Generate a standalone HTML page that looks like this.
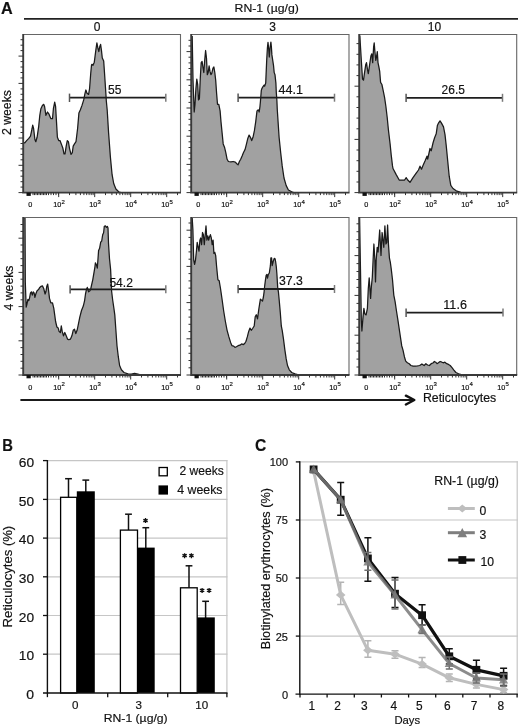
<!DOCTYPE html><html><head><meta charset="utf-8"><style>
html,body{margin:0;padding:0;background:#fff;width:520px;height:728px;overflow:hidden}
svg{display:block;filter:blur(0.3px)} text{font-family:"Liberation Sans", sans-serif;fill:#111;stroke:#111;stroke-width:0.18px}
</style></head><body>
<svg width="520" height="728" viewBox="0 0 520 728">
<text x="1.1" y="13.85" font-size="17.4" font-weight="bold" textLength="11.7" lengthAdjust="spacingAndGlyphs">A</text>
<line x1="24" y1="18.9" x2="518" y2="18.9" stroke="#222" stroke-width="1.8"/>
<text x="234.6" y="11.6" font-size="11.6" textLength="64.2" lengthAdjust="spacingAndGlyphs">RN-1 (µg/g)</text>
<text x="97.2" y="31.3" font-size="12" text-anchor="middle">0</text>
<text x="272.6" y="31.3" font-size="12" text-anchor="middle">3</text>
<text x="434.4" y="31.3" font-size="12" text-anchor="middle">10</text>
<text transform="translate(11.4,112.6) rotate(-90)" font-size="12.2" text-anchor="middle" textLength="45" lengthAdjust="spacingAndGlyphs">2 weeks</text>
<text transform="translate(12.6,288) rotate(-90)" font-size="12.2" text-anchor="middle" textLength="45" lengthAdjust="spacingAndGlyphs">4 weeks</text>
<polygon points="23.5,192.6 23.5,142.6 24.8,142.8 26.6,140.6 28.8,138.4 30.5,136.2 32.1,128.5 32.7,125.2 33.6,128.5 34.9,139.5 35.8,141.7 37.1,137.3 38.7,126.3 39.8,115.3 40.9,108.7 42.4,105.4 43.7,104.3 44.6,106.5 45.9,115.3 47.5,112.0 49.0,114.2 50.8,118.6 52.5,118.6 53.4,108.7 54.7,102.1 55.6,106.5 56.5,121.9 57.4,137.3 58.7,140.6 60.0,140.6 61.3,143.9 62.9,148.3 64.0,153.8 65.0,153.8 66.2,146.1 67.3,140.6 68.4,141.7 69.5,148.3 71.0,154.4 72.3,152.7 73.2,146.1 74.5,143.9 76.0,141.7 77.6,128.5 78.9,113.1 80.4,109.8 82.0,105.4 83.7,99.9 85.0,93.3 85.9,90.0 87.0,93.3 88.6,94.4 89.6,88.3 90.7,73.7 91.5,65.3 91.9,64.3 93.0,65.3 94.3,62.2 95.9,49.7 96.9,42.9 97.8,47.6 98.8,51.7 99.8,46.5 100.6,44.4 101.6,51.7 102.3,58.0 103.7,61.1 104.7,75.8 105.8,92.5 106.3,100.8 107.2,110.0 108.6,132.9 110.4,157.1 112.1,174.7 113.7,183.5 115.9,189.0 119.2,192.2 123.0,193.0 123.0,192.6" fill="#a1a1a1" stroke="none"/>
<polyline points="23.5,142.6 24.8,142.8 26.6,140.6 28.8,138.4 30.5,136.2 32.1,128.5 32.7,125.2 33.6,128.5 34.9,139.5 35.8,141.7 37.1,137.3 38.7,126.3 39.8,115.3 40.9,108.7 42.4,105.4 43.7,104.3 44.6,106.5 45.9,115.3 47.5,112.0 49.0,114.2 50.8,118.6 52.5,118.6 53.4,108.7 54.7,102.1 55.6,106.5 56.5,121.9 57.4,137.3 58.7,140.6 60.0,140.6 61.3,143.9 62.9,148.3 64.0,153.8 65.0,153.8 66.2,146.1 67.3,140.6 68.4,141.7 69.5,148.3 71.0,154.4 72.3,152.7 73.2,146.1 74.5,143.9 76.0,141.7 77.6,128.5 78.9,113.1 80.4,109.8 82.0,105.4 83.7,99.9 85.0,93.3 85.9,90.0 87.0,93.3 88.6,94.4 89.6,88.3 90.7,73.7 91.5,65.3 91.9,64.3 93.0,65.3 94.3,62.2 95.9,49.7 96.9,42.9 97.8,47.6 98.8,51.7 99.8,46.5 100.6,44.4 101.6,51.7 102.3,58.0 103.7,61.1 104.7,75.8 105.8,92.5 106.3,100.8 107.2,110.0 108.6,132.9 110.4,157.1 112.1,174.7 113.7,183.5 115.9,189.0 119.2,192.2 123.0,193.0" fill="none" stroke="#1a1a1a" stroke-width="1.25" stroke-linejoin="round"/>
<path d="M23 34.5H180.5V192.6" fill="none" stroke="#666" stroke-width="1.1"/>
<path d="M23.2 34V192.6H181.0" fill="none" stroke="#3a3a3a" stroke-width="1.9"/>
<line x1="18.5" y1="192.6" x2="23" y2="192.6" stroke="#333" stroke-width="1"/>
<line x1="20.5" y1="187.1" x2="23" y2="187.1" stroke="#333" stroke-width="1"/>
<line x1="20.5" y1="181.7" x2="23" y2="181.7" stroke="#333" stroke-width="1"/>
<line x1="20.5" y1="176.2" x2="23" y2="176.2" stroke="#333" stroke-width="1"/>
<line x1="20.5" y1="170.8" x2="23" y2="170.8" stroke="#333" stroke-width="1"/>
<line x1="18.5" y1="165.3" x2="23" y2="165.3" stroke="#333" stroke-width="1"/>
<line x1="20.5" y1="159.8" x2="23" y2="159.8" stroke="#333" stroke-width="1"/>
<line x1="20.5" y1="154.4" x2="23" y2="154.4" stroke="#333" stroke-width="1"/>
<line x1="20.5" y1="148.9" x2="23" y2="148.9" stroke="#333" stroke-width="1"/>
<line x1="20.5" y1="143.5" x2="23" y2="143.5" stroke="#333" stroke-width="1"/>
<line x1="18.5" y1="138.0" x2="23" y2="138.0" stroke="#333" stroke-width="1"/>
<line x1="20.5" y1="132.5" x2="23" y2="132.5" stroke="#333" stroke-width="1"/>
<line x1="20.5" y1="127.1" x2="23" y2="127.1" stroke="#333" stroke-width="1"/>
<line x1="20.5" y1="121.6" x2="23" y2="121.6" stroke="#333" stroke-width="1"/>
<line x1="20.5" y1="116.2" x2="23" y2="116.2" stroke="#333" stroke-width="1"/>
<line x1="18.5" y1="110.7" x2="23" y2="110.7" stroke="#333" stroke-width="1"/>
<line x1="20.5" y1="105.2" x2="23" y2="105.2" stroke="#333" stroke-width="1"/>
<line x1="20.5" y1="99.8" x2="23" y2="99.8" stroke="#333" stroke-width="1"/>
<line x1="20.5" y1="94.3" x2="23" y2="94.3" stroke="#333" stroke-width="1"/>
<line x1="20.5" y1="88.9" x2="23" y2="88.9" stroke="#333" stroke-width="1"/>
<line x1="18.5" y1="83.4" x2="23" y2="83.4" stroke="#333" stroke-width="1"/>
<line x1="20.5" y1="77.9" x2="23" y2="77.9" stroke="#333" stroke-width="1"/>
<line x1="20.5" y1="72.5" x2="23" y2="72.5" stroke="#333" stroke-width="1"/>
<line x1="20.5" y1="67.0" x2="23" y2="67.0" stroke="#333" stroke-width="1"/>
<line x1="20.5" y1="61.6" x2="23" y2="61.6" stroke="#333" stroke-width="1"/>
<line x1="18.5" y1="56.1" x2="23" y2="56.1" stroke="#333" stroke-width="1"/>
<line x1="20.5" y1="50.6" x2="23" y2="50.6" stroke="#333" stroke-width="1"/>
<line x1="20.5" y1="45.2" x2="23" y2="45.2" stroke="#333" stroke-width="1"/>
<line x1="20.5" y1="39.7" x2="23" y2="39.7" stroke="#333" stroke-width="1"/>
<line x1="58.7" y1="192.6" x2="58.7" y2="197.1" stroke="#333" stroke-width="1"/>
<line x1="69.5" y1="192.6" x2="69.5" y2="195.1" stroke="#333" stroke-width="1"/>
<line x1="75.9" y1="192.6" x2="75.9" y2="195.1" stroke="#333" stroke-width="1"/>
<line x1="80.4" y1="192.6" x2="80.4" y2="195.1" stroke="#333" stroke-width="1"/>
<line x1="83.9" y1="192.6" x2="83.9" y2="195.1" stroke="#333" stroke-width="1"/>
<line x1="86.7" y1="192.6" x2="86.7" y2="195.1" stroke="#333" stroke-width="1"/>
<line x1="89.1" y1="192.6" x2="89.1" y2="195.1" stroke="#333" stroke-width="1"/>
<line x1="91.2" y1="192.6" x2="91.2" y2="195.1" stroke="#333" stroke-width="1"/>
<line x1="93.1" y1="192.6" x2="93.1" y2="195.1" stroke="#333" stroke-width="1"/>
<line x1="94.7" y1="192.6" x2="94.7" y2="197.1" stroke="#333" stroke-width="1"/>
<line x1="105.5" y1="192.6" x2="105.5" y2="195.1" stroke="#333" stroke-width="1"/>
<line x1="111.9" y1="192.6" x2="111.9" y2="195.1" stroke="#333" stroke-width="1"/>
<line x1="116.4" y1="192.6" x2="116.4" y2="195.1" stroke="#333" stroke-width="1"/>
<line x1="119.9" y1="192.6" x2="119.9" y2="195.1" stroke="#333" stroke-width="1"/>
<line x1="122.7" y1="192.6" x2="122.7" y2="195.1" stroke="#333" stroke-width="1"/>
<line x1="125.1" y1="192.6" x2="125.1" y2="195.1" stroke="#333" stroke-width="1"/>
<line x1="127.2" y1="192.6" x2="127.2" y2="195.1" stroke="#333" stroke-width="1"/>
<line x1="129.1" y1="192.6" x2="129.1" y2="195.1" stroke="#333" stroke-width="1"/>
<line x1="130.7" y1="192.6" x2="130.7" y2="197.1" stroke="#333" stroke-width="1"/>
<line x1="141.5" y1="192.6" x2="141.5" y2="195.1" stroke="#333" stroke-width="1"/>
<line x1="147.9" y1="192.6" x2="147.9" y2="195.1" stroke="#333" stroke-width="1"/>
<line x1="152.4" y1="192.6" x2="152.4" y2="195.1" stroke="#333" stroke-width="1"/>
<line x1="155.9" y1="192.6" x2="155.9" y2="195.1" stroke="#333" stroke-width="1"/>
<line x1="158.7" y1="192.6" x2="158.7" y2="195.1" stroke="#333" stroke-width="1"/>
<line x1="161.1" y1="192.6" x2="161.1" y2="195.1" stroke="#333" stroke-width="1"/>
<line x1="163.2" y1="192.6" x2="163.2" y2="195.1" stroke="#333" stroke-width="1"/>
<line x1="165.1" y1="192.6" x2="165.1" y2="195.1" stroke="#333" stroke-width="1"/>
<line x1="166.7" y1="192.6" x2="166.7" y2="197.1" stroke="#333" stroke-width="1"/>
<line x1="177.5" y1="192.6" x2="177.5" y2="195.1" stroke="#333" stroke-width="1"/>
<line x1="33.0" y1="192.6" x2="33.0" y2="195.1" stroke="#333" stroke-width="1"/>
<line x1="34.5" y1="192.6" x2="34.5" y2="195.1" stroke="#333" stroke-width="1"/>
<line x1="36.0" y1="192.6" x2="36.0" y2="195.1" stroke="#333" stroke-width="1"/>
<line x1="37.5" y1="192.6" x2="37.5" y2="195.1" stroke="#333" stroke-width="1"/>
<line x1="39.0" y1="192.6" x2="39.0" y2="195.1" stroke="#333" stroke-width="1"/>
<line x1="40.5" y1="192.6" x2="40.5" y2="195.1" stroke="#333" stroke-width="1"/>
<line x1="42.0" y1="192.6" x2="42.0" y2="195.1" stroke="#333" stroke-width="1"/>
<line x1="43.5" y1="192.6" x2="43.5" y2="195.1" stroke="#333" stroke-width="1"/>
<line x1="45.0" y1="192.6" x2="45.0" y2="195.1" stroke="#333" stroke-width="1"/>
<line x1="46.5" y1="192.6" x2="46.5" y2="195.1" stroke="#333" stroke-width="1"/>
<line x1="48.5" y1="192.6" x2="48.5" y2="195.1" stroke="#333" stroke-width="1"/>
<line x1="51.0" y1="192.6" x2="51.0" y2="195.1" stroke="#333" stroke-width="1"/>
<line x1="53.5" y1="192.6" x2="53.5" y2="195.1" stroke="#333" stroke-width="1"/>
<line x1="56.0" y1="192.6" x2="56.0" y2="195.1" stroke="#333" stroke-width="1"/>
<line x1="58.5" y1="192.6" x2="58.5" y2="195.1" stroke="#333" stroke-width="1"/>
<rect x="26.5" y="192.6" width="4.3" height="3.3" fill="#111"/>
<text x="30.2" y="207.29999999999998" font-size="7.3" text-anchor="middle">0</text>
<text x="53.3" y="207.29999999999998" font-size="7.3">10<tspan dy="-3.3" font-size="6">2</tspan></text>
<text x="89.3" y="207.29999999999998" font-size="7.3">10<tspan dy="-3.3" font-size="6">3</tspan></text>
<text x="125.3" y="207.29999999999998" font-size="7.3">10<tspan dy="-3.3" font-size="6">4</tspan></text>
<text x="161.3" y="207.29999999999998" font-size="7.3">10<tspan dy="-3.3" font-size="6">5</tspan></text>
<line x1="69.5" y1="97.7" x2="165.8" y2="97.7" stroke="#1e1e1e" stroke-width="1.8"/>
<line x1="69.5" y1="93.6" x2="69.5" y2="102.0" stroke="#555" stroke-width="1.5"/>
<line x1="165.8" y1="93.7" x2="165.8" y2="101.7" stroke="#7a7a7a" stroke-width="1.5"/>
<text x="108.1" y="94.1" font-size="12.5" textLength="13.4" lengthAdjust="spacingAndGlyphs">55</text>
<polygon points="191.5,192.6 192.2,36.0 193.0,80.0 194.2,112.0 195.0,104.3 195.9,88.9 196.8,79.1 197.7,84.5 198.5,99.9 199.4,98.8 200.3,78.0 201.2,62.6 202.1,61.5 202.9,67.0 203.8,72.5 204.7,60.4 205.6,50.5 206.5,58.2 207.3,74.7 208.2,72.5 209.1,65.9 210.0,71.4 210.9,74.7 211.7,73.6 213.0,68.1 213.9,67.0 214.8,72.5 215.7,80.2 216.6,93.3 217.5,104.3 218.8,104.3 220.1,110.9 221.0,121.9 222.1,132.9 223.2,143.9 224.5,147.2 225.8,152.7 227.1,159.3 228.4,161.5 230.9,161.9 233.1,161.5 235.3,162.1 236.8,163.7 238.1,164.8 239.4,161.5 240.7,159.3 242.1,156.0 243.4,152.7 245.1,149.4 246.5,143.9 247.8,138.4 249.1,135.1 250.4,137.3 251.7,140.6 253.0,137.3 254.4,130.7 255.7,121.9 257.0,110.9 258.3,109.8 259.2,112.0 259.9,107.0 260.4,101.8 261.3,90.4 262.0,88.3 263.0,86.7 264.1,85.1 264.6,86.2 265.7,83.1 266.7,60.1 267.4,48.0 268.0,42.4 268.6,48.0 269.3,57.0 270.0,48.0 270.9,42.1 271.4,47.0 271.9,54.9 273.5,65.3 274.2,72.6 275.0,74.7 275.9,83.1 276.3,92.5 276.9,100.8 277.3,110.0 277.8,117.5 279.1,137.3 280.7,152.7 282.2,165.9 284.0,178.0 286.2,185.6 288.4,190.0 291.7,191.8 295.0,193.0 295.0,192.6" fill="#a1a1a1" stroke="none"/>
<polyline points="192.2,36.0 193.0,80.0 194.2,112.0 195.0,104.3 195.9,88.9 196.8,79.1 197.7,84.5 198.5,99.9 199.4,98.8 200.3,78.0 201.2,62.6 202.1,61.5 202.9,67.0 203.8,72.5 204.7,60.4 205.6,50.5 206.5,58.2 207.3,74.7 208.2,72.5 209.1,65.9 210.0,71.4 210.9,74.7 211.7,73.6 213.0,68.1 213.9,67.0 214.8,72.5 215.7,80.2 216.6,93.3 217.5,104.3 218.8,104.3 220.1,110.9 221.0,121.9 222.1,132.9 223.2,143.9 224.5,147.2 225.8,152.7 227.1,159.3 228.4,161.5 230.9,161.9 233.1,161.5 235.3,162.1 236.8,163.7 238.1,164.8 239.4,161.5 240.7,159.3 242.1,156.0 243.4,152.7 245.1,149.4 246.5,143.9 247.8,138.4 249.1,135.1 250.4,137.3 251.7,140.6 253.0,137.3 254.4,130.7 255.7,121.9 257.0,110.9 258.3,109.8 259.2,112.0 259.9,107.0 260.4,101.8 261.3,90.4 262.0,88.3 263.0,86.7 264.1,85.1 264.6,86.2 265.7,83.1 266.7,60.1 267.4,48.0 268.0,42.4 268.6,48.0 269.3,57.0 270.0,48.0 270.9,42.1 271.4,47.0 271.9,54.9 273.5,65.3 274.2,72.6 275.0,74.7 275.9,83.1 276.3,92.5 276.9,100.8 277.3,110.0 277.8,117.5 279.1,137.3 280.7,152.7 282.2,165.9 284.0,178.0 286.2,185.6 288.4,190.0 291.7,191.8 295.0,193.0" fill="none" stroke="#1a1a1a" stroke-width="1.25" stroke-linejoin="round"/>
<path d="M191 34.5H349.0V192.6" fill="none" stroke="#666" stroke-width="1.1"/>
<path d="M191.2 34V192.6H349.5" fill="none" stroke="#3a3a3a" stroke-width="1.9"/>
<line x1="186.5" y1="192.6" x2="191" y2="192.6" stroke="#333" stroke-width="1"/>
<line x1="188.5" y1="187.0" x2="191" y2="187.0" stroke="#333" stroke-width="1"/>
<line x1="188.5" y1="181.3" x2="191" y2="181.3" stroke="#333" stroke-width="1"/>
<line x1="188.5" y1="175.7" x2="191" y2="175.7" stroke="#333" stroke-width="1"/>
<line x1="188.5" y1="170.0" x2="191" y2="170.0" stroke="#333" stroke-width="1"/>
<line x1="186.5" y1="164.4" x2="191" y2="164.4" stroke="#333" stroke-width="1"/>
<line x1="188.5" y1="158.8" x2="191" y2="158.8" stroke="#333" stroke-width="1"/>
<line x1="188.5" y1="153.1" x2="191" y2="153.1" stroke="#333" stroke-width="1"/>
<line x1="188.5" y1="147.5" x2="191" y2="147.5" stroke="#333" stroke-width="1"/>
<line x1="188.5" y1="141.8" x2="191" y2="141.8" stroke="#333" stroke-width="1"/>
<line x1="186.5" y1="136.2" x2="191" y2="136.2" stroke="#333" stroke-width="1"/>
<line x1="188.5" y1="130.6" x2="191" y2="130.6" stroke="#333" stroke-width="1"/>
<line x1="188.5" y1="124.9" x2="191" y2="124.9" stroke="#333" stroke-width="1"/>
<line x1="188.5" y1="119.3" x2="191" y2="119.3" stroke="#333" stroke-width="1"/>
<line x1="188.5" y1="113.6" x2="191" y2="113.6" stroke="#333" stroke-width="1"/>
<line x1="186.5" y1="108.0" x2="191" y2="108.0" stroke="#333" stroke-width="1"/>
<line x1="188.5" y1="102.4" x2="191" y2="102.4" stroke="#333" stroke-width="1"/>
<line x1="188.5" y1="96.7" x2="191" y2="96.7" stroke="#333" stroke-width="1"/>
<line x1="188.5" y1="91.1" x2="191" y2="91.1" stroke="#333" stroke-width="1"/>
<line x1="188.5" y1="85.4" x2="191" y2="85.4" stroke="#333" stroke-width="1"/>
<line x1="186.5" y1="79.8" x2="191" y2="79.8" stroke="#333" stroke-width="1"/>
<line x1="188.5" y1="74.2" x2="191" y2="74.2" stroke="#333" stroke-width="1"/>
<line x1="188.5" y1="68.5" x2="191" y2="68.5" stroke="#333" stroke-width="1"/>
<line x1="188.5" y1="62.9" x2="191" y2="62.9" stroke="#333" stroke-width="1"/>
<line x1="188.5" y1="57.2" x2="191" y2="57.2" stroke="#333" stroke-width="1"/>
<line x1="186.5" y1="51.6" x2="191" y2="51.6" stroke="#333" stroke-width="1"/>
<line x1="188.5" y1="46.0" x2="191" y2="46.0" stroke="#333" stroke-width="1"/>
<line x1="188.5" y1="40.3" x2="191" y2="40.3" stroke="#333" stroke-width="1"/>
<line x1="226.7" y1="192.6" x2="226.7" y2="197.1" stroke="#333" stroke-width="1"/>
<line x1="237.5" y1="192.6" x2="237.5" y2="195.1" stroke="#333" stroke-width="1"/>
<line x1="243.9" y1="192.6" x2="243.9" y2="195.1" stroke="#333" stroke-width="1"/>
<line x1="248.4" y1="192.6" x2="248.4" y2="195.1" stroke="#333" stroke-width="1"/>
<line x1="251.9" y1="192.6" x2="251.9" y2="195.1" stroke="#333" stroke-width="1"/>
<line x1="254.7" y1="192.6" x2="254.7" y2="195.1" stroke="#333" stroke-width="1"/>
<line x1="257.1" y1="192.6" x2="257.1" y2="195.1" stroke="#333" stroke-width="1"/>
<line x1="259.2" y1="192.6" x2="259.2" y2="195.1" stroke="#333" stroke-width="1"/>
<line x1="261.1" y1="192.6" x2="261.1" y2="195.1" stroke="#333" stroke-width="1"/>
<line x1="262.7" y1="192.6" x2="262.7" y2="197.1" stroke="#333" stroke-width="1"/>
<line x1="273.5" y1="192.6" x2="273.5" y2="195.1" stroke="#333" stroke-width="1"/>
<line x1="279.9" y1="192.6" x2="279.9" y2="195.1" stroke="#333" stroke-width="1"/>
<line x1="284.4" y1="192.6" x2="284.4" y2="195.1" stroke="#333" stroke-width="1"/>
<line x1="287.9" y1="192.6" x2="287.9" y2="195.1" stroke="#333" stroke-width="1"/>
<line x1="290.7" y1="192.6" x2="290.7" y2="195.1" stroke="#333" stroke-width="1"/>
<line x1="293.1" y1="192.6" x2="293.1" y2="195.1" stroke="#333" stroke-width="1"/>
<line x1="295.2" y1="192.6" x2="295.2" y2="195.1" stroke="#333" stroke-width="1"/>
<line x1="297.1" y1="192.6" x2="297.1" y2="195.1" stroke="#333" stroke-width="1"/>
<line x1="298.7" y1="192.6" x2="298.7" y2="197.1" stroke="#333" stroke-width="1"/>
<line x1="309.5" y1="192.6" x2="309.5" y2="195.1" stroke="#333" stroke-width="1"/>
<line x1="315.9" y1="192.6" x2="315.9" y2="195.1" stroke="#333" stroke-width="1"/>
<line x1="320.4" y1="192.6" x2="320.4" y2="195.1" stroke="#333" stroke-width="1"/>
<line x1="323.9" y1="192.6" x2="323.9" y2="195.1" stroke="#333" stroke-width="1"/>
<line x1="326.7" y1="192.6" x2="326.7" y2="195.1" stroke="#333" stroke-width="1"/>
<line x1="329.1" y1="192.6" x2="329.1" y2="195.1" stroke="#333" stroke-width="1"/>
<line x1="331.2" y1="192.6" x2="331.2" y2="195.1" stroke="#333" stroke-width="1"/>
<line x1="333.1" y1="192.6" x2="333.1" y2="195.1" stroke="#333" stroke-width="1"/>
<line x1="334.7" y1="192.6" x2="334.7" y2="197.1" stroke="#333" stroke-width="1"/>
<line x1="345.5" y1="192.6" x2="345.5" y2="195.1" stroke="#333" stroke-width="1"/>
<line x1="201.0" y1="192.6" x2="201.0" y2="195.1" stroke="#333" stroke-width="1"/>
<line x1="202.5" y1="192.6" x2="202.5" y2="195.1" stroke="#333" stroke-width="1"/>
<line x1="204.0" y1="192.6" x2="204.0" y2="195.1" stroke="#333" stroke-width="1"/>
<line x1="205.5" y1="192.6" x2="205.5" y2="195.1" stroke="#333" stroke-width="1"/>
<line x1="207.0" y1="192.6" x2="207.0" y2="195.1" stroke="#333" stroke-width="1"/>
<line x1="208.5" y1="192.6" x2="208.5" y2="195.1" stroke="#333" stroke-width="1"/>
<line x1="210.0" y1="192.6" x2="210.0" y2="195.1" stroke="#333" stroke-width="1"/>
<line x1="211.5" y1="192.6" x2="211.5" y2="195.1" stroke="#333" stroke-width="1"/>
<line x1="213.0" y1="192.6" x2="213.0" y2="195.1" stroke="#333" stroke-width="1"/>
<line x1="214.5" y1="192.6" x2="214.5" y2="195.1" stroke="#333" stroke-width="1"/>
<line x1="216.5" y1="192.6" x2="216.5" y2="195.1" stroke="#333" stroke-width="1"/>
<line x1="219.0" y1="192.6" x2="219.0" y2="195.1" stroke="#333" stroke-width="1"/>
<line x1="221.5" y1="192.6" x2="221.5" y2="195.1" stroke="#333" stroke-width="1"/>
<line x1="224.0" y1="192.6" x2="224.0" y2="195.1" stroke="#333" stroke-width="1"/>
<line x1="226.5" y1="192.6" x2="226.5" y2="195.1" stroke="#333" stroke-width="1"/>
<rect x="194.5" y="192.6" width="4.3" height="3.3" fill="#111"/>
<text x="198.2" y="207.29999999999998" font-size="7.3" text-anchor="middle">0</text>
<text x="221.3" y="207.29999999999998" font-size="7.3">10<tspan dy="-3.3" font-size="6">2</tspan></text>
<text x="257.3" y="207.29999999999998" font-size="7.3">10<tspan dy="-3.3" font-size="6">3</tspan></text>
<text x="293.3" y="207.29999999999998" font-size="7.3">10<tspan dy="-3.3" font-size="6">4</tspan></text>
<text x="329.3" y="207.29999999999998" font-size="7.3">10<tspan dy="-3.3" font-size="6">5</tspan></text>
<line x1="238.1" y1="97.7" x2="334.5" y2="97.7" stroke="#1e1e1e" stroke-width="1.8"/>
<line x1="238.1" y1="93.6" x2="238.1" y2="102.0" stroke="#555" stroke-width="1.5"/>
<line x1="334.5" y1="93.7" x2="334.5" y2="101.7" stroke="#7a7a7a" stroke-width="1.5"/>
<text x="278.4" y="93.9" font-size="12.5" textLength="24.5" lengthAdjust="spacingAndGlyphs">44.1</text>
<polygon points="359.5,192.6 359.8,35.5 361.3,60.0 362.5,79.0 363.5,80.2 364.4,73.6 365.7,64.8 366.5,62.6 367.4,69.2 368.3,73.6 369.6,64.8 370.9,56.0 371.8,53.8 372.7,62.6 373.6,47.2 374.2,42.8 374.9,51.6 375.8,60.4 376.7,56.0 377.3,51.6 378.0,62.6 378.9,67.0 379.7,71.4 380.6,82.4 381.9,84.5 383.3,91.1 384.6,97.7 385.9,106.5 387.2,117.5 388.5,130.7 390.1,143.9 391.2,154.9 392.5,165.9 393.0,168.5 396.2,174.6 399.2,180.0 402.3,180.0 404.6,180.0 406.2,177.7 407.7,180.0 410.0,182.3 413.0,177.7 416.2,173.1 418.5,170.0 420.0,166.2 421.5,169.2 423.0,165.4 425.0,161.0 427.0,156.2 427.7,159.2 430.0,148.5 431.2,150.8 433.0,143.0 434.6,137.7 436.2,133.8 437.4,125.4 438.5,123.1 440.0,120.8 441.5,123.1 443.5,126.9 445.0,134.6 446.2,145.4 447.7,160.8 449.2,176.2 450.8,185.4 453.0,188.5 456.2,190.8 460.8,192.3 460.8,192.6" fill="#a1a1a1" stroke="none"/>
<polyline points="359.8,35.5 361.3,60.0 362.5,79.0 363.5,80.2 364.4,73.6 365.7,64.8 366.5,62.6 367.4,69.2 368.3,73.6 369.6,64.8 370.9,56.0 371.8,53.8 372.7,62.6 373.6,47.2 374.2,42.8 374.9,51.6 375.8,60.4 376.7,56.0 377.3,51.6 378.0,62.6 378.9,67.0 379.7,71.4 380.6,82.4 381.9,84.5 383.3,91.1 384.6,97.7 385.9,106.5 387.2,117.5 388.5,130.7 390.1,143.9 391.2,154.9 392.5,165.9 393.0,168.5 396.2,174.6 399.2,180.0 402.3,180.0 404.6,180.0 406.2,177.7 407.7,180.0 410.0,182.3 413.0,177.7 416.2,173.1 418.5,170.0 420.0,166.2 421.5,169.2 423.0,165.4 425.0,161.0 427.0,156.2 427.7,159.2 430.0,148.5 431.2,150.8 433.0,143.0 434.6,137.7 436.2,133.8 437.4,125.4 438.5,123.1 440.0,120.8 441.5,123.1 443.5,126.9 445.0,134.6 446.2,145.4 447.7,160.8 449.2,176.2 450.8,185.4 453.0,188.5 456.2,190.8 460.8,192.3" fill="none" stroke="#1a1a1a" stroke-width="1.25" stroke-linejoin="round"/>
<path d="M359 34.5H516.7V192.6" fill="none" stroke="#666" stroke-width="1.1"/>
<path d="M359.2 34V192.6H517.2" fill="none" stroke="#3a3a3a" stroke-width="1.9"/>
<line x1="354.5" y1="192.6" x2="359" y2="192.6" stroke="#333" stroke-width="1"/>
<line x1="356.5" y1="182.0" x2="359" y2="182.0" stroke="#333" stroke-width="1"/>
<line x1="356.5" y1="171.3" x2="359" y2="171.3" stroke="#333" stroke-width="1"/>
<line x1="356.5" y1="160.7" x2="359" y2="160.7" stroke="#333" stroke-width="1"/>
<line x1="356.5" y1="150.0" x2="359" y2="150.0" stroke="#333" stroke-width="1"/>
<line x1="354.5" y1="139.4" x2="359" y2="139.4" stroke="#333" stroke-width="1"/>
<line x1="356.5" y1="128.8" x2="359" y2="128.8" stroke="#333" stroke-width="1"/>
<line x1="356.5" y1="118.1" x2="359" y2="118.1" stroke="#333" stroke-width="1"/>
<line x1="356.5" y1="107.5" x2="359" y2="107.5" stroke="#333" stroke-width="1"/>
<line x1="356.5" y1="96.8" x2="359" y2="96.8" stroke="#333" stroke-width="1"/>
<line x1="354.5" y1="86.2" x2="359" y2="86.2" stroke="#333" stroke-width="1"/>
<line x1="356.5" y1="75.6" x2="359" y2="75.6" stroke="#333" stroke-width="1"/>
<line x1="356.5" y1="64.9" x2="359" y2="64.9" stroke="#333" stroke-width="1"/>
<line x1="356.5" y1="54.3" x2="359" y2="54.3" stroke="#333" stroke-width="1"/>
<line x1="356.5" y1="43.6" x2="359" y2="43.6" stroke="#333" stroke-width="1"/>
<line x1="394.7" y1="192.6" x2="394.7" y2="197.1" stroke="#333" stroke-width="1"/>
<line x1="405.5" y1="192.6" x2="405.5" y2="195.1" stroke="#333" stroke-width="1"/>
<line x1="411.9" y1="192.6" x2="411.9" y2="195.1" stroke="#333" stroke-width="1"/>
<line x1="416.4" y1="192.6" x2="416.4" y2="195.1" stroke="#333" stroke-width="1"/>
<line x1="419.9" y1="192.6" x2="419.9" y2="195.1" stroke="#333" stroke-width="1"/>
<line x1="422.7" y1="192.6" x2="422.7" y2="195.1" stroke="#333" stroke-width="1"/>
<line x1="425.1" y1="192.6" x2="425.1" y2="195.1" stroke="#333" stroke-width="1"/>
<line x1="427.2" y1="192.6" x2="427.2" y2="195.1" stroke="#333" stroke-width="1"/>
<line x1="429.1" y1="192.6" x2="429.1" y2="195.1" stroke="#333" stroke-width="1"/>
<line x1="430.7" y1="192.6" x2="430.7" y2="197.1" stroke="#333" stroke-width="1"/>
<line x1="441.5" y1="192.6" x2="441.5" y2="195.1" stroke="#333" stroke-width="1"/>
<line x1="447.9" y1="192.6" x2="447.9" y2="195.1" stroke="#333" stroke-width="1"/>
<line x1="452.4" y1="192.6" x2="452.4" y2="195.1" stroke="#333" stroke-width="1"/>
<line x1="455.9" y1="192.6" x2="455.9" y2="195.1" stroke="#333" stroke-width="1"/>
<line x1="458.7" y1="192.6" x2="458.7" y2="195.1" stroke="#333" stroke-width="1"/>
<line x1="461.1" y1="192.6" x2="461.1" y2="195.1" stroke="#333" stroke-width="1"/>
<line x1="463.2" y1="192.6" x2="463.2" y2="195.1" stroke="#333" stroke-width="1"/>
<line x1="465.1" y1="192.6" x2="465.1" y2="195.1" stroke="#333" stroke-width="1"/>
<line x1="466.7" y1="192.6" x2="466.7" y2="197.1" stroke="#333" stroke-width="1"/>
<line x1="477.5" y1="192.6" x2="477.5" y2="195.1" stroke="#333" stroke-width="1"/>
<line x1="483.9" y1="192.6" x2="483.9" y2="195.1" stroke="#333" stroke-width="1"/>
<line x1="488.4" y1="192.6" x2="488.4" y2="195.1" stroke="#333" stroke-width="1"/>
<line x1="491.9" y1="192.6" x2="491.9" y2="195.1" stroke="#333" stroke-width="1"/>
<line x1="494.7" y1="192.6" x2="494.7" y2="195.1" stroke="#333" stroke-width="1"/>
<line x1="497.1" y1="192.6" x2="497.1" y2="195.1" stroke="#333" stroke-width="1"/>
<line x1="499.2" y1="192.6" x2="499.2" y2="195.1" stroke="#333" stroke-width="1"/>
<line x1="501.1" y1="192.6" x2="501.1" y2="195.1" stroke="#333" stroke-width="1"/>
<line x1="502.7" y1="192.6" x2="502.7" y2="197.1" stroke="#333" stroke-width="1"/>
<line x1="513.5" y1="192.6" x2="513.5" y2="195.1" stroke="#333" stroke-width="1"/>
<line x1="369.0" y1="192.6" x2="369.0" y2="195.1" stroke="#333" stroke-width="1"/>
<line x1="370.5" y1="192.6" x2="370.5" y2="195.1" stroke="#333" stroke-width="1"/>
<line x1="372.0" y1="192.6" x2="372.0" y2="195.1" stroke="#333" stroke-width="1"/>
<line x1="373.5" y1="192.6" x2="373.5" y2="195.1" stroke="#333" stroke-width="1"/>
<line x1="375.0" y1="192.6" x2="375.0" y2="195.1" stroke="#333" stroke-width="1"/>
<line x1="376.5" y1="192.6" x2="376.5" y2="195.1" stroke="#333" stroke-width="1"/>
<line x1="378.0" y1="192.6" x2="378.0" y2="195.1" stroke="#333" stroke-width="1"/>
<line x1="379.5" y1="192.6" x2="379.5" y2="195.1" stroke="#333" stroke-width="1"/>
<line x1="381.0" y1="192.6" x2="381.0" y2="195.1" stroke="#333" stroke-width="1"/>
<line x1="382.5" y1="192.6" x2="382.5" y2="195.1" stroke="#333" stroke-width="1"/>
<line x1="384.5" y1="192.6" x2="384.5" y2="195.1" stroke="#333" stroke-width="1"/>
<line x1="387.0" y1="192.6" x2="387.0" y2="195.1" stroke="#333" stroke-width="1"/>
<line x1="389.5" y1="192.6" x2="389.5" y2="195.1" stroke="#333" stroke-width="1"/>
<line x1="392.0" y1="192.6" x2="392.0" y2="195.1" stroke="#333" stroke-width="1"/>
<line x1="394.5" y1="192.6" x2="394.5" y2="195.1" stroke="#333" stroke-width="1"/>
<rect x="362.5" y="192.6" width="4.3" height="3.3" fill="#111"/>
<text x="366.2" y="207.29999999999998" font-size="7.3" text-anchor="middle">0</text>
<text x="389.3" y="207.29999999999998" font-size="7.3">10<tspan dy="-3.3" font-size="6">2</tspan></text>
<text x="425.3" y="207.29999999999998" font-size="7.3">10<tspan dy="-3.3" font-size="6">3</tspan></text>
<text x="461.3" y="207.29999999999998" font-size="7.3">10<tspan dy="-3.3" font-size="6">4</tspan></text>
<text x="497.3" y="207.29999999999998" font-size="7.3">10<tspan dy="-3.3" font-size="6">5</tspan></text>
<line x1="406.1" y1="97.8" x2="502.5" y2="97.8" stroke="#1e1e1e" stroke-width="1.8"/>
<line x1="406.1" y1="93.7" x2="406.1" y2="102.1" stroke="#555" stroke-width="1.5"/>
<line x1="502.5" y1="93.8" x2="502.5" y2="101.8" stroke="#7a7a7a" stroke-width="1.5"/>
<text x="441.6" y="93.9" font-size="12.5" textLength="23.3" lengthAdjust="spacingAndGlyphs">26.5</text>
<polygon points="23.5,375.0 23.8,217.5 25.0,217.5 25.3,282.0 26.2,307.2 27.0,303.9 27.9,299.5 28.8,300.6 29.7,297.3 30.5,292.9 31.4,291.8 32.3,295.1 33.2,291.8 34.1,292.9 34.9,297.3 35.8,294.0 37.1,290.7 38.5,289.6 39.8,287.4 41.1,286.3 42.4,285.9 43.7,288.5 45.1,294.0 45.9,291.8 46.8,286.3 47.7,284.1 48.6,290.7 49.5,298.4 50.8,302.8 52.5,302.8 53.8,308.3 54.7,314.9 55.6,321.5 56.9,327.0 58.2,328.1 59.1,331.4 60.4,332.5 61.3,325.9 62.2,331.4 63.5,335.8 64.8,332.5 66.2,335.8 67.5,339.1 68.8,339.7 70.5,339.1 71.9,335.8 73.2,330.3 74.5,329.2 75.8,333.6 77.1,330.3 78.5,323.7 79.8,317.1 81.5,310.5 83.3,306.1 84.6,300.6 85.5,294.0 86.4,289.6 87.3,287.4 88.6,291.8 89.9,290.7 90.7,289.0 92.8,279.6 94.9,267.1 95.4,262.9 96.5,265.0 97.3,268.1 98.0,258.8 98.6,250.4 99.6,248.3 100.7,242.1 101.7,241.0 102.7,234.7 103.6,232.7 104.3,226.4 105.4,225.9 106.4,227.4 107.4,226.4 108.0,228.0 108.5,243.1 109.5,258.8 110.6,269.2 111.1,279.6 111.6,291.0 112.6,299.5 113.9,308.3 114.8,314.9 115.9,330.3 117.0,345.7 118.3,356.7 119.6,365.5 121.4,369.8 124.0,372.5 128.0,373.8 131.3,374.2 134.6,373.4 137.9,374.2 141.2,375.0 141.2,375.0" fill="#a1a1a1" stroke="none"/>
<polyline points="23.8,217.5 25.0,217.5 25.3,282.0 26.2,307.2 27.0,303.9 27.9,299.5 28.8,300.6 29.7,297.3 30.5,292.9 31.4,291.8 32.3,295.1 33.2,291.8 34.1,292.9 34.9,297.3 35.8,294.0 37.1,290.7 38.5,289.6 39.8,287.4 41.1,286.3 42.4,285.9 43.7,288.5 45.1,294.0 45.9,291.8 46.8,286.3 47.7,284.1 48.6,290.7 49.5,298.4 50.8,302.8 52.5,302.8 53.8,308.3 54.7,314.9 55.6,321.5 56.9,327.0 58.2,328.1 59.1,331.4 60.4,332.5 61.3,325.9 62.2,331.4 63.5,335.8 64.8,332.5 66.2,335.8 67.5,339.1 68.8,339.7 70.5,339.1 71.9,335.8 73.2,330.3 74.5,329.2 75.8,333.6 77.1,330.3 78.5,323.7 79.8,317.1 81.5,310.5 83.3,306.1 84.6,300.6 85.5,294.0 86.4,289.6 87.3,287.4 88.6,291.8 89.9,290.7 90.7,289.0 92.8,279.6 94.9,267.1 95.4,262.9 96.5,265.0 97.3,268.1 98.0,258.8 98.6,250.4 99.6,248.3 100.7,242.1 101.7,241.0 102.7,234.7 103.6,232.7 104.3,226.4 105.4,225.9 106.4,227.4 107.4,226.4 108.0,228.0 108.5,243.1 109.5,258.8 110.6,269.2 111.1,279.6 111.6,291.0 112.6,299.5 113.9,308.3 114.8,314.9 115.9,330.3 117.0,345.7 118.3,356.7 119.6,365.5 121.4,369.8 124.0,372.5 128.0,373.8 131.3,374.2 134.6,373.4 137.9,374.2 141.2,375.0" fill="none" stroke="#1a1a1a" stroke-width="1.25" stroke-linejoin="round"/>
<path d="M23 217.5H180.5V375.0" fill="none" stroke="#666" stroke-width="1.1"/>
<path d="M23.2 217V375.0H181.0" fill="none" stroke="#3a3a3a" stroke-width="1.9"/>
<line x1="18.5" y1="375.0" x2="23" y2="375.0" stroke="#333" stroke-width="1"/>
<line x1="20.5" y1="368.2" x2="23" y2="368.2" stroke="#333" stroke-width="1"/>
<line x1="20.5" y1="361.3" x2="23" y2="361.3" stroke="#333" stroke-width="1"/>
<line x1="20.5" y1="354.5" x2="23" y2="354.5" stroke="#333" stroke-width="1"/>
<line x1="20.5" y1="347.6" x2="23" y2="347.6" stroke="#333" stroke-width="1"/>
<line x1="18.5" y1="340.8" x2="23" y2="340.8" stroke="#333" stroke-width="1"/>
<line x1="20.5" y1="334.0" x2="23" y2="334.0" stroke="#333" stroke-width="1"/>
<line x1="20.5" y1="327.1" x2="23" y2="327.1" stroke="#333" stroke-width="1"/>
<line x1="20.5" y1="320.3" x2="23" y2="320.3" stroke="#333" stroke-width="1"/>
<line x1="20.5" y1="313.4" x2="23" y2="313.4" stroke="#333" stroke-width="1"/>
<line x1="18.5" y1="306.6" x2="23" y2="306.6" stroke="#333" stroke-width="1"/>
<line x1="20.5" y1="299.8" x2="23" y2="299.8" stroke="#333" stroke-width="1"/>
<line x1="20.5" y1="292.9" x2="23" y2="292.9" stroke="#333" stroke-width="1"/>
<line x1="20.5" y1="286.1" x2="23" y2="286.1" stroke="#333" stroke-width="1"/>
<line x1="20.5" y1="279.2" x2="23" y2="279.2" stroke="#333" stroke-width="1"/>
<line x1="18.5" y1="272.4" x2="23" y2="272.4" stroke="#333" stroke-width="1"/>
<line x1="20.5" y1="265.6" x2="23" y2="265.6" stroke="#333" stroke-width="1"/>
<line x1="20.5" y1="258.7" x2="23" y2="258.7" stroke="#333" stroke-width="1"/>
<line x1="20.5" y1="251.9" x2="23" y2="251.9" stroke="#333" stroke-width="1"/>
<line x1="20.5" y1="245.0" x2="23" y2="245.0" stroke="#333" stroke-width="1"/>
<line x1="18.5" y1="238.2" x2="23" y2="238.2" stroke="#333" stroke-width="1"/>
<line x1="20.5" y1="231.4" x2="23" y2="231.4" stroke="#333" stroke-width="1"/>
<line x1="20.5" y1="224.5" x2="23" y2="224.5" stroke="#333" stroke-width="1"/>
<line x1="58.7" y1="375.0" x2="58.7" y2="379.5" stroke="#333" stroke-width="1"/>
<line x1="69.5" y1="375.0" x2="69.5" y2="377.5" stroke="#333" stroke-width="1"/>
<line x1="75.9" y1="375.0" x2="75.9" y2="377.5" stroke="#333" stroke-width="1"/>
<line x1="80.4" y1="375.0" x2="80.4" y2="377.5" stroke="#333" stroke-width="1"/>
<line x1="83.9" y1="375.0" x2="83.9" y2="377.5" stroke="#333" stroke-width="1"/>
<line x1="86.7" y1="375.0" x2="86.7" y2="377.5" stroke="#333" stroke-width="1"/>
<line x1="89.1" y1="375.0" x2="89.1" y2="377.5" stroke="#333" stroke-width="1"/>
<line x1="91.2" y1="375.0" x2="91.2" y2="377.5" stroke="#333" stroke-width="1"/>
<line x1="93.1" y1="375.0" x2="93.1" y2="377.5" stroke="#333" stroke-width="1"/>
<line x1="94.7" y1="375.0" x2="94.7" y2="379.5" stroke="#333" stroke-width="1"/>
<line x1="105.5" y1="375.0" x2="105.5" y2="377.5" stroke="#333" stroke-width="1"/>
<line x1="111.9" y1="375.0" x2="111.9" y2="377.5" stroke="#333" stroke-width="1"/>
<line x1="116.4" y1="375.0" x2="116.4" y2="377.5" stroke="#333" stroke-width="1"/>
<line x1="119.9" y1="375.0" x2="119.9" y2="377.5" stroke="#333" stroke-width="1"/>
<line x1="122.7" y1="375.0" x2="122.7" y2="377.5" stroke="#333" stroke-width="1"/>
<line x1="125.1" y1="375.0" x2="125.1" y2="377.5" stroke="#333" stroke-width="1"/>
<line x1="127.2" y1="375.0" x2="127.2" y2="377.5" stroke="#333" stroke-width="1"/>
<line x1="129.1" y1="375.0" x2="129.1" y2="377.5" stroke="#333" stroke-width="1"/>
<line x1="130.7" y1="375.0" x2="130.7" y2="379.5" stroke="#333" stroke-width="1"/>
<line x1="141.5" y1="375.0" x2="141.5" y2="377.5" stroke="#333" stroke-width="1"/>
<line x1="147.9" y1="375.0" x2="147.9" y2="377.5" stroke="#333" stroke-width="1"/>
<line x1="152.4" y1="375.0" x2="152.4" y2="377.5" stroke="#333" stroke-width="1"/>
<line x1="155.9" y1="375.0" x2="155.9" y2="377.5" stroke="#333" stroke-width="1"/>
<line x1="158.7" y1="375.0" x2="158.7" y2="377.5" stroke="#333" stroke-width="1"/>
<line x1="161.1" y1="375.0" x2="161.1" y2="377.5" stroke="#333" stroke-width="1"/>
<line x1="163.2" y1="375.0" x2="163.2" y2="377.5" stroke="#333" stroke-width="1"/>
<line x1="165.1" y1="375.0" x2="165.1" y2="377.5" stroke="#333" stroke-width="1"/>
<line x1="166.7" y1="375.0" x2="166.7" y2="379.5" stroke="#333" stroke-width="1"/>
<line x1="177.5" y1="375.0" x2="177.5" y2="377.5" stroke="#333" stroke-width="1"/>
<line x1="33.0" y1="375.0" x2="33.0" y2="377.5" stroke="#333" stroke-width="1"/>
<line x1="34.5" y1="375.0" x2="34.5" y2="377.5" stroke="#333" stroke-width="1"/>
<line x1="36.0" y1="375.0" x2="36.0" y2="377.5" stroke="#333" stroke-width="1"/>
<line x1="37.5" y1="375.0" x2="37.5" y2="377.5" stroke="#333" stroke-width="1"/>
<line x1="39.0" y1="375.0" x2="39.0" y2="377.5" stroke="#333" stroke-width="1"/>
<line x1="40.5" y1="375.0" x2="40.5" y2="377.5" stroke="#333" stroke-width="1"/>
<line x1="42.0" y1="375.0" x2="42.0" y2="377.5" stroke="#333" stroke-width="1"/>
<line x1="43.5" y1="375.0" x2="43.5" y2="377.5" stroke="#333" stroke-width="1"/>
<line x1="45.0" y1="375.0" x2="45.0" y2="377.5" stroke="#333" stroke-width="1"/>
<line x1="46.5" y1="375.0" x2="46.5" y2="377.5" stroke="#333" stroke-width="1"/>
<line x1="48.5" y1="375.0" x2="48.5" y2="377.5" stroke="#333" stroke-width="1"/>
<line x1="51.0" y1="375.0" x2="51.0" y2="377.5" stroke="#333" stroke-width="1"/>
<line x1="53.5" y1="375.0" x2="53.5" y2="377.5" stroke="#333" stroke-width="1"/>
<line x1="56.0" y1="375.0" x2="56.0" y2="377.5" stroke="#333" stroke-width="1"/>
<line x1="58.5" y1="375.0" x2="58.5" y2="377.5" stroke="#333" stroke-width="1"/>
<rect x="26.5" y="375.0" width="4.3" height="3.3" fill="#111"/>
<text x="30.2" y="389.7" font-size="7.3" text-anchor="middle">0</text>
<text x="53.3" y="389.7" font-size="7.3">10<tspan dy="-3.3" font-size="6">2</tspan></text>
<text x="89.3" y="389.7" font-size="7.3">10<tspan dy="-3.3" font-size="6">3</tspan></text>
<text x="125.3" y="389.7" font-size="7.3">10<tspan dy="-3.3" font-size="6">4</tspan></text>
<text x="161.3" y="389.7" font-size="7.3">10<tspan dy="-3.3" font-size="6">5</tspan></text>
<line x1="70.1" y1="289.3" x2="165.8" y2="289.3" stroke="#1e1e1e" stroke-width="1.8"/>
<line x1="70.1" y1="285.2" x2="70.1" y2="293.6" stroke="#555" stroke-width="1.5"/>
<line x1="165.8" y1="285.3" x2="165.8" y2="293.3" stroke="#7a7a7a" stroke-width="1.5"/>
<text x="109.4" y="286.5" font-size="12.5" textLength="23.5" lengthAdjust="spacingAndGlyphs">54.2</text>
<polygon points="191.5,375.0 192.2,218.0 192.9,230.0 193.7,260.0 194.6,264.4 195.5,260.0 196.4,251.2 197.2,242.4 198.1,246.8 199.0,251.2 199.9,240.2 200.7,238.0 201.6,244.6 202.5,232.5 203.4,234.7 204.3,244.6 205.1,235.8 206.0,225.9 206.9,240.2 207.8,235.8 208.7,240.2 209.5,236.9 210.4,234.7 211.3,238.0 212.2,244.6 213.1,240.2 213.9,253.4 214.8,252.3 215.7,255.6 216.6,266.5 217.9,279.7 219.2,280.8 220.5,288.5 222.1,299.5 223.6,310.5 225.4,321.5 227.1,330.3 228.9,336.9 230.6,342.4 232.0,345.7 233.7,346.1 235.0,347.4 236.4,346.8 238.1,345.7 239.9,345.2 241.6,343.9 243.4,344.6 244.7,343.5 246.0,341.3 247.3,336.9 248.7,331.4 250.0,328.1 251.3,330.3 252.6,328.5 254.2,326.0 255.2,316.8 256.3,314.7 257.5,318.9 258.9,308.5 260.4,299.1 261.5,300.1 262.5,301.1 263.4,297.0 264.1,291.8 264.6,286.5 265.4,280.3 266.2,275.1 266.9,274.5 267.5,278.2 268.3,274.5 269.3,273.0 270.4,265.7 270.9,257.8 271.6,257.8 272.2,265.7 273.2,261.5 274.2,258.4 275.1,258.9 275.6,261.5 276.3,266.7 276.9,274.0 277.7,287.6 278.4,291.8 279.2,300.1 280.3,312.6 281.3,326.0 282.2,330.3 283.5,339.1 284.9,350.1 286.2,358.9 287.5,365.5 289.3,369.8 291.7,372.5 295.0,373.8 299.4,375.0 299.4,375.0" fill="#a1a1a1" stroke="none"/>
<polyline points="192.2,218.0 192.9,230.0 193.7,260.0 194.6,264.4 195.5,260.0 196.4,251.2 197.2,242.4 198.1,246.8 199.0,251.2 199.9,240.2 200.7,238.0 201.6,244.6 202.5,232.5 203.4,234.7 204.3,244.6 205.1,235.8 206.0,225.9 206.9,240.2 207.8,235.8 208.7,240.2 209.5,236.9 210.4,234.7 211.3,238.0 212.2,244.6 213.1,240.2 213.9,253.4 214.8,252.3 215.7,255.6 216.6,266.5 217.9,279.7 219.2,280.8 220.5,288.5 222.1,299.5 223.6,310.5 225.4,321.5 227.1,330.3 228.9,336.9 230.6,342.4 232.0,345.7 233.7,346.1 235.0,347.4 236.4,346.8 238.1,345.7 239.9,345.2 241.6,343.9 243.4,344.6 244.7,343.5 246.0,341.3 247.3,336.9 248.7,331.4 250.0,328.1 251.3,330.3 252.6,328.5 254.2,326.0 255.2,316.8 256.3,314.7 257.5,318.9 258.9,308.5 260.4,299.1 261.5,300.1 262.5,301.1 263.4,297.0 264.1,291.8 264.6,286.5 265.4,280.3 266.2,275.1 266.9,274.5 267.5,278.2 268.3,274.5 269.3,273.0 270.4,265.7 270.9,257.8 271.6,257.8 272.2,265.7 273.2,261.5 274.2,258.4 275.1,258.9 275.6,261.5 276.3,266.7 276.9,274.0 277.7,287.6 278.4,291.8 279.2,300.1 280.3,312.6 281.3,326.0 282.2,330.3 283.5,339.1 284.9,350.1 286.2,358.9 287.5,365.5 289.3,369.8 291.7,372.5 295.0,373.8 299.4,375.0" fill="none" stroke="#1a1a1a" stroke-width="1.25" stroke-linejoin="round"/>
<path d="M191 217.5H349.0V375.0" fill="none" stroke="#666" stroke-width="1.1"/>
<path d="M191.2 217V375.0H349.5" fill="none" stroke="#3a3a3a" stroke-width="1.9"/>
<line x1="186.5" y1="375.0" x2="191" y2="375.0" stroke="#333" stroke-width="1"/>
<line x1="188.5" y1="367.8" x2="191" y2="367.8" stroke="#333" stroke-width="1"/>
<line x1="188.5" y1="360.5" x2="191" y2="360.5" stroke="#333" stroke-width="1"/>
<line x1="188.5" y1="353.3" x2="191" y2="353.3" stroke="#333" stroke-width="1"/>
<line x1="188.5" y1="346.0" x2="191" y2="346.0" stroke="#333" stroke-width="1"/>
<line x1="186.5" y1="338.8" x2="191" y2="338.8" stroke="#333" stroke-width="1"/>
<line x1="188.5" y1="331.6" x2="191" y2="331.6" stroke="#333" stroke-width="1"/>
<line x1="188.5" y1="324.3" x2="191" y2="324.3" stroke="#333" stroke-width="1"/>
<line x1="188.5" y1="317.1" x2="191" y2="317.1" stroke="#333" stroke-width="1"/>
<line x1="188.5" y1="309.8" x2="191" y2="309.8" stroke="#333" stroke-width="1"/>
<line x1="186.5" y1="302.6" x2="191" y2="302.6" stroke="#333" stroke-width="1"/>
<line x1="188.5" y1="295.4" x2="191" y2="295.4" stroke="#333" stroke-width="1"/>
<line x1="188.5" y1="288.1" x2="191" y2="288.1" stroke="#333" stroke-width="1"/>
<line x1="188.5" y1="280.9" x2="191" y2="280.9" stroke="#333" stroke-width="1"/>
<line x1="188.5" y1="273.6" x2="191" y2="273.6" stroke="#333" stroke-width="1"/>
<line x1="186.5" y1="266.4" x2="191" y2="266.4" stroke="#333" stroke-width="1"/>
<line x1="188.5" y1="259.2" x2="191" y2="259.2" stroke="#333" stroke-width="1"/>
<line x1="188.5" y1="251.9" x2="191" y2="251.9" stroke="#333" stroke-width="1"/>
<line x1="188.5" y1="244.7" x2="191" y2="244.7" stroke="#333" stroke-width="1"/>
<line x1="188.5" y1="237.4" x2="191" y2="237.4" stroke="#333" stroke-width="1"/>
<line x1="186.5" y1="230.2" x2="191" y2="230.2" stroke="#333" stroke-width="1"/>
<line x1="188.5" y1="223.0" x2="191" y2="223.0" stroke="#333" stroke-width="1"/>
<line x1="226.7" y1="375.0" x2="226.7" y2="379.5" stroke="#333" stroke-width="1"/>
<line x1="237.5" y1="375.0" x2="237.5" y2="377.5" stroke="#333" stroke-width="1"/>
<line x1="243.9" y1="375.0" x2="243.9" y2="377.5" stroke="#333" stroke-width="1"/>
<line x1="248.4" y1="375.0" x2="248.4" y2="377.5" stroke="#333" stroke-width="1"/>
<line x1="251.9" y1="375.0" x2="251.9" y2="377.5" stroke="#333" stroke-width="1"/>
<line x1="254.7" y1="375.0" x2="254.7" y2="377.5" stroke="#333" stroke-width="1"/>
<line x1="257.1" y1="375.0" x2="257.1" y2="377.5" stroke="#333" stroke-width="1"/>
<line x1="259.2" y1="375.0" x2="259.2" y2="377.5" stroke="#333" stroke-width="1"/>
<line x1="261.1" y1="375.0" x2="261.1" y2="377.5" stroke="#333" stroke-width="1"/>
<line x1="262.7" y1="375.0" x2="262.7" y2="379.5" stroke="#333" stroke-width="1"/>
<line x1="273.5" y1="375.0" x2="273.5" y2="377.5" stroke="#333" stroke-width="1"/>
<line x1="279.9" y1="375.0" x2="279.9" y2="377.5" stroke="#333" stroke-width="1"/>
<line x1="284.4" y1="375.0" x2="284.4" y2="377.5" stroke="#333" stroke-width="1"/>
<line x1="287.9" y1="375.0" x2="287.9" y2="377.5" stroke="#333" stroke-width="1"/>
<line x1="290.7" y1="375.0" x2="290.7" y2="377.5" stroke="#333" stroke-width="1"/>
<line x1="293.1" y1="375.0" x2="293.1" y2="377.5" stroke="#333" stroke-width="1"/>
<line x1="295.2" y1="375.0" x2="295.2" y2="377.5" stroke="#333" stroke-width="1"/>
<line x1="297.1" y1="375.0" x2="297.1" y2="377.5" stroke="#333" stroke-width="1"/>
<line x1="298.7" y1="375.0" x2="298.7" y2="379.5" stroke="#333" stroke-width="1"/>
<line x1="309.5" y1="375.0" x2="309.5" y2="377.5" stroke="#333" stroke-width="1"/>
<line x1="315.9" y1="375.0" x2="315.9" y2="377.5" stroke="#333" stroke-width="1"/>
<line x1="320.4" y1="375.0" x2="320.4" y2="377.5" stroke="#333" stroke-width="1"/>
<line x1="323.9" y1="375.0" x2="323.9" y2="377.5" stroke="#333" stroke-width="1"/>
<line x1="326.7" y1="375.0" x2="326.7" y2="377.5" stroke="#333" stroke-width="1"/>
<line x1="329.1" y1="375.0" x2="329.1" y2="377.5" stroke="#333" stroke-width="1"/>
<line x1="331.2" y1="375.0" x2="331.2" y2="377.5" stroke="#333" stroke-width="1"/>
<line x1="333.1" y1="375.0" x2="333.1" y2="377.5" stroke="#333" stroke-width="1"/>
<line x1="334.7" y1="375.0" x2="334.7" y2="379.5" stroke="#333" stroke-width="1"/>
<line x1="345.5" y1="375.0" x2="345.5" y2="377.5" stroke="#333" stroke-width="1"/>
<line x1="201.0" y1="375.0" x2="201.0" y2="377.5" stroke="#333" stroke-width="1"/>
<line x1="202.5" y1="375.0" x2="202.5" y2="377.5" stroke="#333" stroke-width="1"/>
<line x1="204.0" y1="375.0" x2="204.0" y2="377.5" stroke="#333" stroke-width="1"/>
<line x1="205.5" y1="375.0" x2="205.5" y2="377.5" stroke="#333" stroke-width="1"/>
<line x1="207.0" y1="375.0" x2="207.0" y2="377.5" stroke="#333" stroke-width="1"/>
<line x1="208.5" y1="375.0" x2="208.5" y2="377.5" stroke="#333" stroke-width="1"/>
<line x1="210.0" y1="375.0" x2="210.0" y2="377.5" stroke="#333" stroke-width="1"/>
<line x1="211.5" y1="375.0" x2="211.5" y2="377.5" stroke="#333" stroke-width="1"/>
<line x1="213.0" y1="375.0" x2="213.0" y2="377.5" stroke="#333" stroke-width="1"/>
<line x1="214.5" y1="375.0" x2="214.5" y2="377.5" stroke="#333" stroke-width="1"/>
<line x1="216.5" y1="375.0" x2="216.5" y2="377.5" stroke="#333" stroke-width="1"/>
<line x1="219.0" y1="375.0" x2="219.0" y2="377.5" stroke="#333" stroke-width="1"/>
<line x1="221.5" y1="375.0" x2="221.5" y2="377.5" stroke="#333" stroke-width="1"/>
<line x1="224.0" y1="375.0" x2="224.0" y2="377.5" stroke="#333" stroke-width="1"/>
<line x1="226.5" y1="375.0" x2="226.5" y2="377.5" stroke="#333" stroke-width="1"/>
<rect x="194.5" y="375.0" width="4.3" height="3.3" fill="#111"/>
<text x="198.2" y="389.7" font-size="7.3" text-anchor="middle">0</text>
<text x="221.3" y="389.7" font-size="7.3">10<tspan dy="-3.3" font-size="6">2</tspan></text>
<text x="257.3" y="389.7" font-size="7.3">10<tspan dy="-3.3" font-size="6">3</tspan></text>
<text x="293.3" y="389.7" font-size="7.3">10<tspan dy="-3.3" font-size="6">4</tspan></text>
<text x="329.3" y="389.7" font-size="7.3">10<tspan dy="-3.3" font-size="6">5</tspan></text>
<line x1="238.1" y1="289.0" x2="334.5" y2="289.0" stroke="#1e1e1e" stroke-width="1.8"/>
<line x1="238.1" y1="284.9" x2="238.1" y2="293.3" stroke="#555" stroke-width="1.5"/>
<line x1="334.5" y1="285.0" x2="334.5" y2="293.0" stroke="#7a7a7a" stroke-width="1.5"/>
<text x="279.0" y="284.5" font-size="12.5" textLength="23.9" lengthAdjust="spacingAndGlyphs">37.3</text>
<polygon points="359.5,375.0 359.5,217.5 360.5,270.0 361.3,320.0 361.9,331.0 363.0,317.1 363.9,308.3 364.8,313.8 366.1,314.9 367.4,308.3 368.3,288.5 369.2,277.8 370.6,298.4 371.4,286.3 372.3,277.5 373.1,260.0 373.9,244.0 374.9,260.0 375.5,281.9 376.2,260.0 377.2,247.3 378.1,252.0 379.7,230.0 381.0,255.5 382.1,232.5 383.8,247.3 384.9,225.9 385.9,244.0 386.8,242.4 387.6,225.0 388.5,244.6 389.4,257.8 390.3,262.2 391.2,268.7 392.5,279.7 393.8,295.1 395.1,301.7 396.4,310.5 397.8,319.3 399.1,328.1 400.4,336.9 401.7,345.7 403.0,350.1 404.4,356.7 405.7,361.1 407.4,362.8 409.2,363.7 410.9,365.5 413.1,366.1 415.3,366.1 417.5,365.9 419.7,365.5 421.9,363.9 424.1,365.5 425.9,363.7 427.6,365.0 429.4,365.5 431.2,363.7 432.9,363.0 434.4,361.5 435.7,362.2 437.0,363.7 438.4,362.8 440.1,361.5 441.9,362.2 443.2,362.8 444.9,362.2 446.7,363.7 448.5,364.4 450.2,365.5 452.0,367.6 453.7,369.8 455.9,372.5 458.6,373.8 463.0,375.0 463.0,375.0" fill="#a1a1a1" stroke="none"/>
<polyline points="359.5,217.5 360.5,270.0 361.3,320.0 361.9,331.0 363.0,317.1 363.9,308.3 364.8,313.8 366.1,314.9 367.4,308.3 368.3,288.5 369.2,277.8 370.6,298.4 371.4,286.3 372.3,277.5 373.1,260.0 373.9,244.0 374.9,260.0 375.5,281.9 376.2,260.0 377.2,247.3 378.1,252.0 379.7,230.0 381.0,255.5 382.1,232.5 383.8,247.3 384.9,225.9 385.9,244.0 386.8,242.4 387.6,225.0 388.5,244.6 389.4,257.8 390.3,262.2 391.2,268.7 392.5,279.7 393.8,295.1 395.1,301.7 396.4,310.5 397.8,319.3 399.1,328.1 400.4,336.9 401.7,345.7 403.0,350.1 404.4,356.7 405.7,361.1 407.4,362.8 409.2,363.7 410.9,365.5 413.1,366.1 415.3,366.1 417.5,365.9 419.7,365.5 421.9,363.9 424.1,365.5 425.9,363.7 427.6,365.0 429.4,365.5 431.2,363.7 432.9,363.0 434.4,361.5 435.7,362.2 437.0,363.7 438.4,362.8 440.1,361.5 441.9,362.2 443.2,362.8 444.9,362.2 446.7,363.7 448.5,364.4 450.2,365.5 452.0,367.6 453.7,369.8 455.9,372.5 458.6,373.8 463.0,375.0" fill="none" stroke="#1a1a1a" stroke-width="1.25" stroke-linejoin="round"/>
<path d="M359 217.5H516.7V375.0" fill="none" stroke="#666" stroke-width="1.1"/>
<path d="M359.2 217V375.0H517.2" fill="none" stroke="#3a3a3a" stroke-width="1.9"/>
<line x1="354.5" y1="375.0" x2="359" y2="375.0" stroke="#333" stroke-width="1"/>
<line x1="356.5" y1="367.0" x2="359" y2="367.0" stroke="#333" stroke-width="1"/>
<line x1="356.5" y1="359.1" x2="359" y2="359.1" stroke="#333" stroke-width="1"/>
<line x1="356.5" y1="351.1" x2="359" y2="351.1" stroke="#333" stroke-width="1"/>
<line x1="356.5" y1="343.2" x2="359" y2="343.2" stroke="#333" stroke-width="1"/>
<line x1="354.5" y1="335.2" x2="359" y2="335.2" stroke="#333" stroke-width="1"/>
<line x1="356.5" y1="327.2" x2="359" y2="327.2" stroke="#333" stroke-width="1"/>
<line x1="356.5" y1="319.3" x2="359" y2="319.3" stroke="#333" stroke-width="1"/>
<line x1="356.5" y1="311.3" x2="359" y2="311.3" stroke="#333" stroke-width="1"/>
<line x1="356.5" y1="303.4" x2="359" y2="303.4" stroke="#333" stroke-width="1"/>
<line x1="354.5" y1="295.4" x2="359" y2="295.4" stroke="#333" stroke-width="1"/>
<line x1="356.5" y1="287.4" x2="359" y2="287.4" stroke="#333" stroke-width="1"/>
<line x1="356.5" y1="279.5" x2="359" y2="279.5" stroke="#333" stroke-width="1"/>
<line x1="356.5" y1="271.5" x2="359" y2="271.5" stroke="#333" stroke-width="1"/>
<line x1="356.5" y1="263.6" x2="359" y2="263.6" stroke="#333" stroke-width="1"/>
<line x1="354.5" y1="255.6" x2="359" y2="255.6" stroke="#333" stroke-width="1"/>
<line x1="356.5" y1="247.6" x2="359" y2="247.6" stroke="#333" stroke-width="1"/>
<line x1="356.5" y1="239.7" x2="359" y2="239.7" stroke="#333" stroke-width="1"/>
<line x1="356.5" y1="231.7" x2="359" y2="231.7" stroke="#333" stroke-width="1"/>
<line x1="356.5" y1="223.8" x2="359" y2="223.8" stroke="#333" stroke-width="1"/>
<line x1="394.7" y1="375.0" x2="394.7" y2="379.5" stroke="#333" stroke-width="1"/>
<line x1="405.5" y1="375.0" x2="405.5" y2="377.5" stroke="#333" stroke-width="1"/>
<line x1="411.9" y1="375.0" x2="411.9" y2="377.5" stroke="#333" stroke-width="1"/>
<line x1="416.4" y1="375.0" x2="416.4" y2="377.5" stroke="#333" stroke-width="1"/>
<line x1="419.9" y1="375.0" x2="419.9" y2="377.5" stroke="#333" stroke-width="1"/>
<line x1="422.7" y1="375.0" x2="422.7" y2="377.5" stroke="#333" stroke-width="1"/>
<line x1="425.1" y1="375.0" x2="425.1" y2="377.5" stroke="#333" stroke-width="1"/>
<line x1="427.2" y1="375.0" x2="427.2" y2="377.5" stroke="#333" stroke-width="1"/>
<line x1="429.1" y1="375.0" x2="429.1" y2="377.5" stroke="#333" stroke-width="1"/>
<line x1="430.7" y1="375.0" x2="430.7" y2="379.5" stroke="#333" stroke-width="1"/>
<line x1="441.5" y1="375.0" x2="441.5" y2="377.5" stroke="#333" stroke-width="1"/>
<line x1="447.9" y1="375.0" x2="447.9" y2="377.5" stroke="#333" stroke-width="1"/>
<line x1="452.4" y1="375.0" x2="452.4" y2="377.5" stroke="#333" stroke-width="1"/>
<line x1="455.9" y1="375.0" x2="455.9" y2="377.5" stroke="#333" stroke-width="1"/>
<line x1="458.7" y1="375.0" x2="458.7" y2="377.5" stroke="#333" stroke-width="1"/>
<line x1="461.1" y1="375.0" x2="461.1" y2="377.5" stroke="#333" stroke-width="1"/>
<line x1="463.2" y1="375.0" x2="463.2" y2="377.5" stroke="#333" stroke-width="1"/>
<line x1="465.1" y1="375.0" x2="465.1" y2="377.5" stroke="#333" stroke-width="1"/>
<line x1="466.7" y1="375.0" x2="466.7" y2="379.5" stroke="#333" stroke-width="1"/>
<line x1="477.5" y1="375.0" x2="477.5" y2="377.5" stroke="#333" stroke-width="1"/>
<line x1="483.9" y1="375.0" x2="483.9" y2="377.5" stroke="#333" stroke-width="1"/>
<line x1="488.4" y1="375.0" x2="488.4" y2="377.5" stroke="#333" stroke-width="1"/>
<line x1="491.9" y1="375.0" x2="491.9" y2="377.5" stroke="#333" stroke-width="1"/>
<line x1="494.7" y1="375.0" x2="494.7" y2="377.5" stroke="#333" stroke-width="1"/>
<line x1="497.1" y1="375.0" x2="497.1" y2="377.5" stroke="#333" stroke-width="1"/>
<line x1="499.2" y1="375.0" x2="499.2" y2="377.5" stroke="#333" stroke-width="1"/>
<line x1="501.1" y1="375.0" x2="501.1" y2="377.5" stroke="#333" stroke-width="1"/>
<line x1="502.7" y1="375.0" x2="502.7" y2="379.5" stroke="#333" stroke-width="1"/>
<line x1="513.5" y1="375.0" x2="513.5" y2="377.5" stroke="#333" stroke-width="1"/>
<line x1="369.0" y1="375.0" x2="369.0" y2="377.5" stroke="#333" stroke-width="1"/>
<line x1="370.5" y1="375.0" x2="370.5" y2="377.5" stroke="#333" stroke-width="1"/>
<line x1="372.0" y1="375.0" x2="372.0" y2="377.5" stroke="#333" stroke-width="1"/>
<line x1="373.5" y1="375.0" x2="373.5" y2="377.5" stroke="#333" stroke-width="1"/>
<line x1="375.0" y1="375.0" x2="375.0" y2="377.5" stroke="#333" stroke-width="1"/>
<line x1="376.5" y1="375.0" x2="376.5" y2="377.5" stroke="#333" stroke-width="1"/>
<line x1="378.0" y1="375.0" x2="378.0" y2="377.5" stroke="#333" stroke-width="1"/>
<line x1="379.5" y1="375.0" x2="379.5" y2="377.5" stroke="#333" stroke-width="1"/>
<line x1="381.0" y1="375.0" x2="381.0" y2="377.5" stroke="#333" stroke-width="1"/>
<line x1="382.5" y1="375.0" x2="382.5" y2="377.5" stroke="#333" stroke-width="1"/>
<line x1="384.5" y1="375.0" x2="384.5" y2="377.5" stroke="#333" stroke-width="1"/>
<line x1="387.0" y1="375.0" x2="387.0" y2="377.5" stroke="#333" stroke-width="1"/>
<line x1="389.5" y1="375.0" x2="389.5" y2="377.5" stroke="#333" stroke-width="1"/>
<line x1="392.0" y1="375.0" x2="392.0" y2="377.5" stroke="#333" stroke-width="1"/>
<line x1="394.5" y1="375.0" x2="394.5" y2="377.5" stroke="#333" stroke-width="1"/>
<rect x="362.5" y="375.0" width="4.3" height="3.3" fill="#111"/>
<text x="366.2" y="389.7" font-size="7.3" text-anchor="middle">0</text>
<text x="389.3" y="389.7" font-size="7.3">10<tspan dy="-3.3" font-size="6">2</tspan></text>
<text x="425.3" y="389.7" font-size="7.3">10<tspan dy="-3.3" font-size="6">3</tspan></text>
<text x="461.3" y="389.7" font-size="7.3">10<tspan dy="-3.3" font-size="6">4</tspan></text>
<text x="497.3" y="389.7" font-size="7.3">10<tspan dy="-3.3" font-size="6">5</tspan></text>
<line x1="406.1" y1="312.6" x2="503" y2="312.6" stroke="#1e1e1e" stroke-width="1.8"/>
<line x1="406.1" y1="308.5" x2="406.1" y2="316.9" stroke="#555" stroke-width="1.5"/>
<line x1="503" y1="308.6" x2="503" y2="316.6" stroke="#7a7a7a" stroke-width="1.5"/>
<text x="443.3" y="309.2" font-size="12.5" textLength="23.6" lengthAdjust="spacingAndGlyphs">11.6</text>
<line x1="20.4" y1="400" x2="413" y2="400" stroke="#1a1a1a" stroke-width="2"/>
<path d="M405.9 395.7 L414.3 400 L405.9 404.5" fill="none" stroke="#111" stroke-width="2.5" stroke-linecap="round" stroke-linejoin="round"/>
<text x="422.9" y="401.6" font-size="11.9" textLength="73.4" lengthAdjust="spacingAndGlyphs">Reticulocytes</text>
<text x="2.3" y="450.7" font-size="17.3" font-weight="bold" textLength="10.7" lengthAdjust="spacingAndGlyphs">B</text>
<line x1="47" y1="654.2" x2="227.4" y2="654.2" stroke="#c6c6c6" stroke-width="1.2"/>
<line x1="47" y1="615.5" x2="227.4" y2="615.5" stroke="#c6c6c6" stroke-width="1.2"/>
<line x1="47" y1="576.8" x2="227.4" y2="576.8" stroke="#c6c6c6" stroke-width="1.2"/>
<line x1="47" y1="538.1" x2="227.4" y2="538.1" stroke="#c6c6c6" stroke-width="1.2"/>
<line x1="47" y1="499.4" x2="227.4" y2="499.4" stroke="#c6c6c6" stroke-width="1.2"/>
<line x1="47" y1="460.6" x2="227.4" y2="460.6" stroke="#c6c6c6" stroke-width="1.2"/>
<line x1="226.9" y1="460.0" x2="226.9" y2="692.95" stroke="#c6c6c6" stroke-width="1.2"/>
<line x1="68.5" y1="478.7" x2="68.5" y2="497.3" stroke="#111" stroke-width="1.5"/>
<line x1="65.1" y1="478.7" x2="71.9" y2="478.7" stroke="#111" stroke-width="1.5"/>
<rect x="60.6" y="497.3" width="16.2" height="195.7" fill="#fff" stroke="#000" stroke-width="1.3"/>
<line x1="85.8" y1="480.1" x2="85.8" y2="491.9" stroke="#111" stroke-width="1.5"/>
<line x1="82.4" y1="480.1" x2="89.2" y2="480.1" stroke="#111" stroke-width="1.5"/>
<rect x="76.8" y="491.3" width="18.0" height="201.7" fill="#000"/>
<line x1="128.5" y1="514.2" x2="128.5" y2="530.1" stroke="#111" stroke-width="1.5"/>
<line x1="125.1" y1="514.2" x2="131.9" y2="514.2" stroke="#111" stroke-width="1.5"/>
<rect x="120.4" y="530.1" width="17.1" height="162.9" fill="#fff" stroke="#000" stroke-width="1.3"/>
<line x1="145.8" y1="527.7" x2="145.8" y2="548.25" stroke="#111" stroke-width="1.5"/>
<line x1="142.4" y1="527.7" x2="149.2" y2="527.7" stroke="#111" stroke-width="1.5"/>
<rect x="137.5" y="547.6" width="17.2" height="145.3" fill="#000"/>
<line x1="189.0" y1="565.8" x2="189.0" y2="587.8" stroke="#111" stroke-width="1.5"/>
<line x1="185.6" y1="565.8" x2="192.4" y2="565.8" stroke="#111" stroke-width="1.5"/>
<rect x="180.5" y="587.8" width="16.7" height="105.2" fill="#fff" stroke="#000" stroke-width="1.3"/>
<line x1="205.6" y1="601.3" x2="205.6" y2="618.0" stroke="#111" stroke-width="1.5"/>
<line x1="202.2" y1="601.3" x2="209.0" y2="601.3" stroke="#111" stroke-width="1.5"/>
<rect x="197.2" y="617.4" width="17.6" height="75.6" fill="#000"/>
<line x1="47.4" y1="460.0" x2="47.4" y2="693.5500000000001" stroke="#111" stroke-width="1.4"/>
<line x1="43" y1="692.95" x2="227.5" y2="692.95" stroke="#111" stroke-width="1.4"/>
<line x1="43" y1="654.2" x2="47.5" y2="654.2" stroke="#111" stroke-width="1.3"/>
<line x1="43" y1="615.5" x2="47.5" y2="615.5" stroke="#111" stroke-width="1.3"/>
<line x1="43" y1="576.8" x2="47.5" y2="576.8" stroke="#111" stroke-width="1.3"/>
<line x1="43" y1="538.1" x2="47.5" y2="538.1" stroke="#111" stroke-width="1.3"/>
<line x1="43" y1="499.4" x2="47.5" y2="499.4" stroke="#111" stroke-width="1.3"/>
<line x1="43" y1="460.6" x2="47.5" y2="460.6" stroke="#111" stroke-width="1.3"/>
<text x="34.1" y="699.2" font-size="12.8" text-anchor="end" textLength="7.8" lengthAdjust="spacingAndGlyphs">0</text>
<text x="34.1" y="660.4" font-size="12.8" text-anchor="end" textLength="15.3" lengthAdjust="spacingAndGlyphs">10</text>
<text x="34.1" y="621.7" font-size="12.8" text-anchor="end" textLength="15.3" lengthAdjust="spacingAndGlyphs">20</text>
<text x="34.1" y="583.0" font-size="12.8" text-anchor="end" textLength="15.3" lengthAdjust="spacingAndGlyphs">30</text>
<text x="34.1" y="544.3" font-size="12.8" text-anchor="end" textLength="15.3" lengthAdjust="spacingAndGlyphs">40</text>
<text x="34.1" y="505.6" font-size="12.8" text-anchor="end" textLength="15.3" lengthAdjust="spacingAndGlyphs">50</text>
<text x="34.1" y="466.8" font-size="12.8" text-anchor="end" textLength="15.3" lengthAdjust="spacingAndGlyphs">60</text>
<line x1="47.4" y1="692.95" x2="47.4" y2="697.1500000000001" stroke="#111" stroke-width="1.3"/>
<line x1="107.7" y1="692.95" x2="107.7" y2="697.1500000000001" stroke="#111" stroke-width="1.3"/>
<line x1="167.7" y1="692.95" x2="167.7" y2="697.1500000000001" stroke="#111" stroke-width="1.3"/>
<line x1="226.9" y1="692.95" x2="226.9" y2="697.1500000000001" stroke="#111" stroke-width="1.3"/>
<text x="75.2" y="709.1" font-size="11.6" text-anchor="middle">0</text>
<text x="138.8" y="709.1" font-size="11.6" text-anchor="middle">3</text>
<text x="201.8" y="709.1" font-size="11.6" text-anchor="middle">10</text>
<text x="103.7" y="721.6" font-size="11.7" textLength="64" lengthAdjust="spacingAndGlyphs">RN-1 (µg/g)</text>
<text transform="translate(11.8,576.6) rotate(-90)" font-size="13.1" text-anchor="middle" textLength="101.6" lengthAdjust="spacingAndGlyphs">Reticulocytes (%)</text>
<path d="M145.50 518.10L145.50 523.10M143.33 519.35L147.67 521.85M147.67 519.35L143.33 521.85" stroke="#111" stroke-width="1.35" fill="none"/>
<path d="M184.60 553.20L184.60 558.20M182.43 554.45L186.77 556.95M186.77 554.45L182.43 556.95" stroke="#111" stroke-width="1.35" fill="none"/>
<path d="M191.40 553.20L191.40 558.20M189.23 554.45L193.57 556.95M193.57 554.45L189.23 556.95" stroke="#111" stroke-width="1.35" fill="none"/>
<path d="M202.10 587.90L202.10 592.90M199.93 589.15L204.27 591.65M204.27 589.15L199.93 591.65" stroke="#111" stroke-width="1.35" fill="none"/>
<path d="M209.10 587.90L209.10 592.90M206.93 589.15L211.27 591.65M211.27 589.15L206.93 591.65" stroke="#111" stroke-width="1.35" fill="none"/>
<rect x="159.1" y="467.5" width="8.2" height="8.3" fill="#fff" stroke="#000" stroke-width="1.3"/>
<rect x="158.5" y="485.4" width="9.5" height="9.2" fill="#000"/>
<text x="179.5" y="475" font-size="12.3" textLength="44.3" lengthAdjust="spacingAndGlyphs">2 weeks</text>
<text x="177.3" y="494" font-size="12.3" textLength="45.2" lengthAdjust="spacingAndGlyphs">4 weeks</text>
<text x="254.9" y="450.5" font-size="17.3" font-weight="bold" textLength="11.3" lengthAdjust="spacingAndGlyphs">C</text>
<line x1="300" y1="636.1" x2="517.8" y2="636.1" stroke="#c6c6c6" stroke-width="1.2"/>
<line x1="300" y1="578.0" x2="517.8" y2="578.0" stroke="#c6c6c6" stroke-width="1.2"/>
<line x1="300" y1="520.0" x2="517.8" y2="520.0" stroke="#c6c6c6" stroke-width="1.2"/>
<line x1="300" y1="461.9" x2="517.8" y2="461.9" stroke="#c6c6c6" stroke-width="1.2"/>
<line x1="517.2" y1="461.3" x2="517.2" y2="694.1" stroke="#c6c6c6" stroke-width="1.2"/>
<line x1="299.8" y1="461.3" x2="299.8" y2="694.7" stroke="#111" stroke-width="1.4"/>
<line x1="295.5" y1="694.1" x2="517.8" y2="694.1" stroke="#111" stroke-width="1.4"/>
<line x1="295.8" y1="636.1" x2="300" y2="636.1" stroke="#111" stroke-width="1.3"/>
<line x1="295.8" y1="578.0" x2="300" y2="578.0" stroke="#111" stroke-width="1.3"/>
<line x1="295.8" y1="520.0" x2="300" y2="520.0" stroke="#111" stroke-width="1.3"/>
<line x1="295.8" y1="461.9" x2="300" y2="461.9" stroke="#111" stroke-width="1.3"/>
<text x="288" y="698.5" font-size="11" text-anchor="end">0</text>
<text x="288" y="640.5" font-size="11" text-anchor="end">25</text>
<text x="288" y="582.4" font-size="11" text-anchor="end">50</text>
<text x="288" y="524.4" font-size="11" text-anchor="end">75</text>
<text x="288" y="466.3" font-size="11" text-anchor="end">100</text>
<line x1="300.0" y1="694.1" x2="300.0" y2="697.5" stroke="#111" stroke-width="1.3"/>
<line x1="327.1" y1="694.1" x2="327.1" y2="697.5" stroke="#111" stroke-width="1.3"/>
<line x1="354.3" y1="694.1" x2="354.3" y2="697.5" stroke="#111" stroke-width="1.3"/>
<line x1="381.4" y1="694.1" x2="381.4" y2="697.5" stroke="#111" stroke-width="1.3"/>
<line x1="408.6" y1="694.1" x2="408.6" y2="697.5" stroke="#111" stroke-width="1.3"/>
<line x1="435.7" y1="694.1" x2="435.7" y2="697.5" stroke="#111" stroke-width="1.3"/>
<line x1="462.8" y1="694.1" x2="462.8" y2="697.5" stroke="#111" stroke-width="1.3"/>
<line x1="490.0" y1="694.1" x2="490.0" y2="697.5" stroke="#111" stroke-width="1.3"/>
<line x1="517.1" y1="694.1" x2="517.1" y2="697.5" stroke="#111" stroke-width="1.3"/>
<text x="311.9" y="710.3" font-size="11.9" text-anchor="middle">1</text>
<text x="337.5" y="710.3" font-size="11.9" text-anchor="middle">2</text>
<text x="364.3" y="710.3" font-size="11.9" text-anchor="middle">3</text>
<text x="393.8" y="710.3" font-size="11.9" text-anchor="middle">4</text>
<text x="419.2" y="710.3" font-size="11.9" text-anchor="middle">5</text>
<text x="447.3" y="710.3" font-size="11.9" text-anchor="middle">6</text>
<text x="474.0" y="710.3" font-size="11.9" text-anchor="middle">7</text>
<text x="500.9" y="710.3" font-size="11.9" text-anchor="middle">8</text>
<text x="394.4" y="723.6" font-size="11.6" textLength="25.8" lengthAdjust="spacingAndGlyphs">Days</text>
<text transform="translate(269.5,568.65) rotate(-90)" font-size="12.7" text-anchor="middle" textLength="161" lengthAdjust="spacingAndGlyphs">Biotinylated erythrocytes (%)</text>
<path d="M337.2 582.2H344.2M340.7 582.2V604.6M337.2 604.6H344.2" stroke="#b4b4b4" stroke-width="1.5" fill="none"/>
<path d="M364.4 640.8H371.4M367.9 640.8V657.2M364.4 657.2H371.4" stroke="#b4b4b4" stroke-width="1.5" fill="none"/>
<path d="M391.5 650.8H398.5M395.0 650.8V658.2M391.5 658.2H398.5" stroke="#b4b4b4" stroke-width="1.5" fill="none"/>
<path d="M418.6 657.6H425.6M422.1 657.6V667.4M418.6 667.4H425.6" stroke="#b4b4b4" stroke-width="1.5" fill="none"/>
<path d="M445.8 674.0H452.8M449.3 674.0V681.5M445.8 681.5H452.8" stroke="#b4b4b4" stroke-width="1.5" fill="none"/>
<path d="M472.9 681.0H479.9M476.4 681.0V688.0M472.9 688.0H479.9" stroke="#b4b4b4" stroke-width="1.5" fill="none"/>
<path d="M500.1 686.0H507.1M503.6 686.0V692.5M500.1 692.5H507.1" stroke="#b4b4b4" stroke-width="1.5" fill="none"/>
<polyline points="313.6,471.0 340.7,594.9 367.9,650.3 395.0,654.2 422.1,664.1 449.3,677.8 476.4,684.4 503.6,689.6" fill="none" stroke="#bebebe" stroke-width="3.0" stroke-linejoin="round" opacity="1"/>
<g opacity="1">
<path d="M313.6 466.8L318.4 471.0L313.6 475.2L308.8 471.0Z" fill="#bebebe"/>
<path d="M340.7 590.7L345.5 594.9L340.7 599.1L335.9 594.9Z" fill="#bebebe"/>
<path d="M367.9 646.1L372.7 650.3L367.9 654.5L363.1 650.3Z" fill="#bebebe"/>
<path d="M395.0 650.0L399.8 654.2L395.0 658.4L390.2 654.2Z" fill="#bebebe"/>
<path d="M422.1 659.9L426.9 664.1L422.1 668.3L417.3 664.1Z" fill="#bebebe"/>
<path d="M449.3 673.6L454.1 677.8L449.3 682.0L444.5 677.8Z" fill="#bebebe"/>
<path d="M476.4 680.2L481.2 684.4L476.4 688.6L471.6 684.4Z" fill="#bebebe"/>
<path d="M503.6 685.4L508.4 689.6L503.6 693.8L498.8 689.6Z" fill="#bebebe"/>
</g>
<path d="M337.2 482.5H344.2M340.7 482.5V515.2M337.2 515.2H344.2" stroke="#111" stroke-width="1.5" fill="none"/>
<path d="M364.4 537.7H371.4M367.9 537.7V581.3M364.4 581.3H371.4" stroke="#111" stroke-width="1.5" fill="none"/>
<path d="M391.5 577.6H398.5M395.0 577.6V607.6M391.5 607.6H398.5" stroke="#111" stroke-width="1.5" fill="none"/>
<path d="M418.6 604.8H425.6M422.1 604.8V625.0M418.6 625.0H425.6" stroke="#111" stroke-width="1.5" fill="none"/>
<path d="M445.8 648.7H452.8M449.3 648.7V664.0M445.8 664.0H452.8" stroke="#111" stroke-width="1.5" fill="none"/>
<path d="M472.9 660.2H479.9M476.4 660.2V679.0M472.9 679.0H479.9" stroke="#111" stroke-width="1.5" fill="none"/>
<path d="M500.1 668.3H507.1M503.6 668.3V685.6M500.1 685.6H507.1" stroke="#111" stroke-width="1.5" fill="none"/>
<polyline points="313.6,469.4 340.7,499.7 367.9,558.4 395.0,593.7 422.1,615.2 449.3,656.3 476.4,669.8 503.6,675.8" fill="none" stroke="#111" stroke-width="3.3" stroke-linejoin="round" opacity="1"/>
<g opacity="1">
<rect x="309.7" y="465.5" width="7.8" height="7.8" fill="#111"/>
<rect x="336.8" y="495.8" width="7.8" height="7.8" fill="#111"/>
<rect x="364.0" y="554.5" width="7.8" height="7.8" fill="#111"/>
<rect x="391.1" y="589.8" width="7.8" height="7.8" fill="#111"/>
<rect x="418.2" y="611.3" width="7.8" height="7.8" fill="#111"/>
<rect x="445.4" y="652.4" width="7.8" height="7.8" fill="#111"/>
<rect x="472.5" y="665.9" width="7.8" height="7.8" fill="#111"/>
<rect x="499.7" y="671.9" width="7.8" height="7.8" fill="#111"/>
</g>
<path d="M364.4 552.5H371.4M367.9 552.5V570.2M364.4 570.2H371.4" stroke="#6f6f6f" stroke-width="1.5" fill="none"/>
<path d="M391.5 580.0H398.5M395.0 580.0V609.0M391.5 609.0H398.5" stroke="#6f6f6f" stroke-width="1.5" fill="none"/>
<path d="M418.6 625.0H425.6M422.1 625.0V633.5M418.6 633.5H425.6" stroke="#6f6f6f" stroke-width="1.5" fill="none"/>
<path d="M445.8 657.0H452.8M449.3 657.0V669.0M445.8 669.0H452.8" stroke="#6f6f6f" stroke-width="1.5" fill="none"/>
<path d="M472.9 673.0H479.9M476.4 673.0V683.0M472.9 683.0H479.9" stroke="#6f6f6f" stroke-width="1.5" fill="none"/>
<path d="M500.1 674.0H507.1M503.6 674.0V686.0M500.1 686.0H507.1" stroke="#6f6f6f" stroke-width="1.5" fill="none"/>
<polyline points="313.6,469.4 340.7,499.7 367.9,562.0 395.0,595.0 422.1,629.6 449.3,663.5 476.4,678.0 503.6,679.8" fill="none" stroke="#787878" stroke-width="3.0" stroke-linejoin="round" opacity="0.85"/>
<g opacity="0.85">
<path d="M313.6 464.6L318.2 473.0L309.0 473.0Z" fill="#787878"/>
<path d="M340.7 494.9L345.3 503.3L336.1 503.3Z" fill="#787878"/>
<path d="M367.9 557.2L372.4 565.6L363.3 565.6Z" fill="#787878"/>
<path d="M395.0 590.2L399.6 598.6L390.4 598.6Z" fill="#787878"/>
<path d="M422.1 624.8L426.7 633.2L417.5 633.2Z" fill="#787878"/>
<path d="M449.3 658.7L453.9 667.1L444.7 667.1Z" fill="#787878"/>
<path d="M476.4 673.2L481.0 681.6L471.8 681.6Z" fill="#787878"/>
<path d="M503.6 675.0L508.1 683.4L499.0 683.4Z" fill="#787878"/>
</g>
<text x="434.3" y="485.2" font-size="12.2" textLength="64.6" lengthAdjust="spacingAndGlyphs">RN-1 (µg/g)</text>
<line x1="447.9" y1="508.5" x2="474.8" y2="508.5" stroke="#bebebe" stroke-width="3"/>
<path d="M462.3 504.5L467.1 508.5L462.3 512.5L457.5 508.5Z" fill="#bebebe"/>
<text x="479.6" y="514.8" font-size="12.2">0</text>
<line x1="447.9" y1="532.7" x2="474.8" y2="532.7" stroke="#7f7f7f" stroke-width="3"/>
<path d="M462.3 527.9L467.1 537.3L457.5 537.3Z" fill="#7f7f7f"/>
<text x="479.6" y="538.8" font-size="12.2">3</text>
<line x1="447.9" y1="560" x2="474.8" y2="560" stroke="#111" stroke-width="3"/>
<rect x="458.4" y="556.1" width="7.9" height="7.8" fill="#111"/>
<text x="480.6" y="565.8" font-size="12.2">10</text>
</svg></body></html>
